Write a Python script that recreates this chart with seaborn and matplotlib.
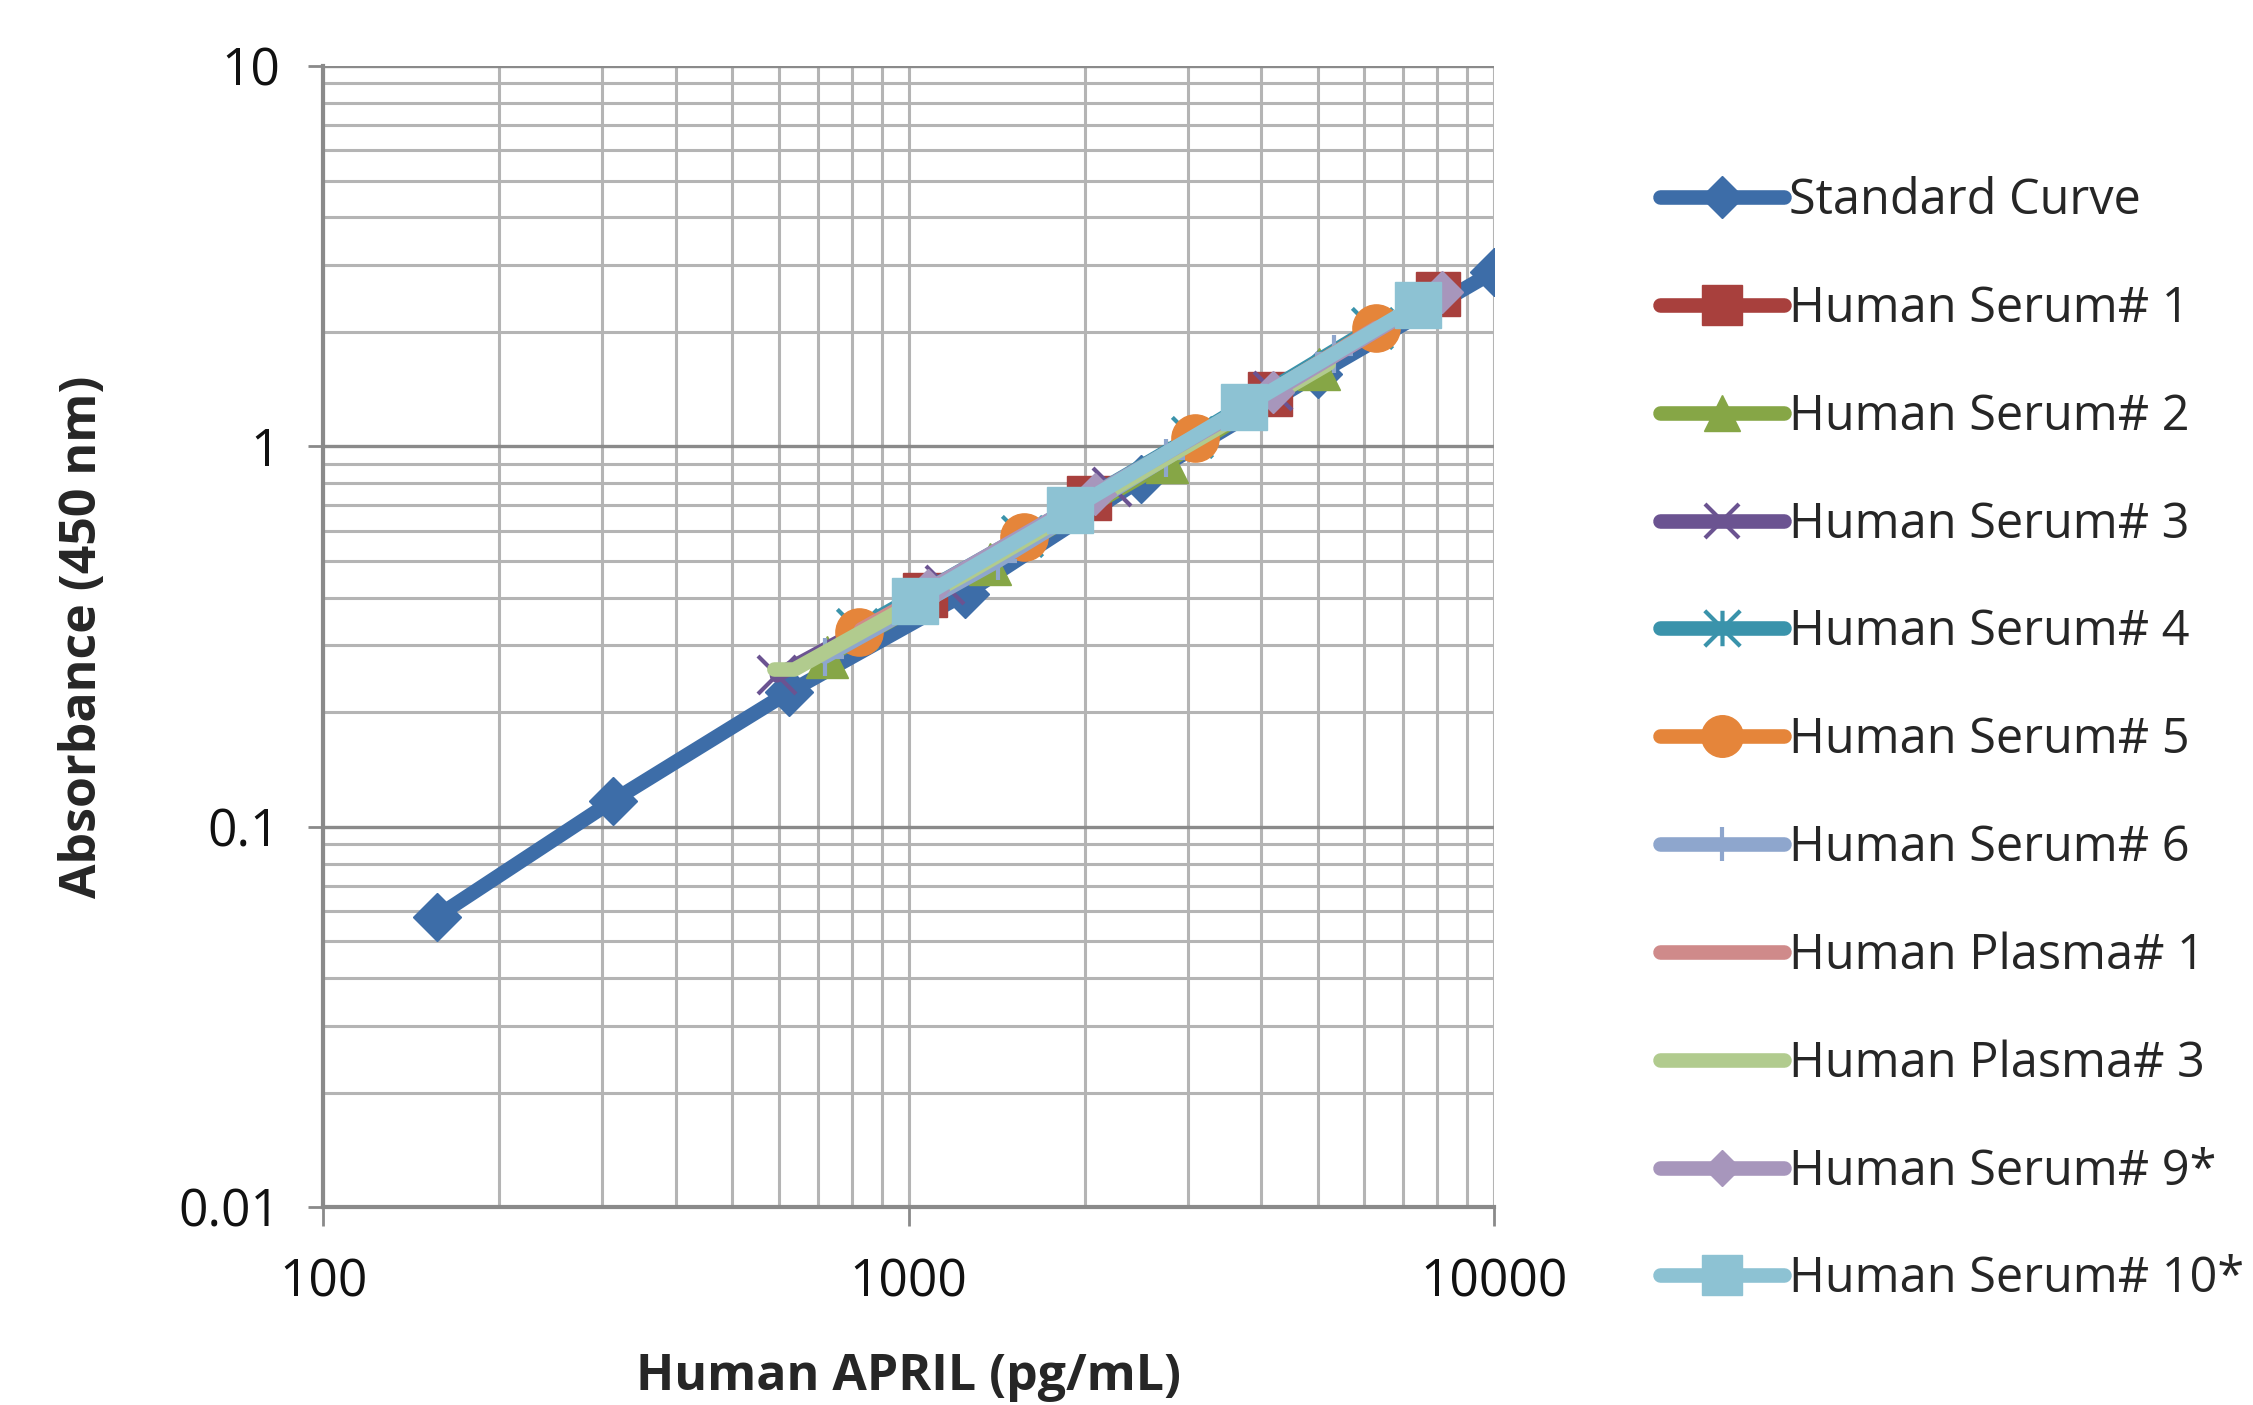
import matplotlib
matplotlib.use("Agg")
import matplotlib.pyplot as plt
from matplotlib.path import Path
from matplotlib.ticker import FixedLocator, LogLocator, NullFormatter
import seaborn as sns


# Data

std_x = [156.25, 312.5, 625, 1250, 2500, 5000, 10000]
std_y = [0.058, 0.117, 0.226, 0.41, 0.82, 1.55, 2.88]

serum1_x = [1067, 2032, 4140, 8030]
serum1_y = [0.407, 0.73, 1.376, 2.51]

serum2_x = [727, 1376, 2760, 5020]
serum2_y = [0.28, 0.49, 0.91, 1.6]

serum3_x = [596, 1155, 2225, 4190]
serum3_y = [0.25, 0.433, 0.78, 1.40]

serum4_x = [815, 1560, 3050, 6200]
serum4_y = [0.33, 0.58, 1.06, 2.05]

serum5_x = [824, 1577, 3085, 6290]
serum5_y = [0.325, 0.577, 1.05, 2.05]

serum6_x = [720, 1420, 2750, 5340]
serum6_y = [0.28, 0.50, 0.93, 1.75]

plasma1_x = [830, 1600, 3100, 6300]
plasma1_y = [0.33, 0.58, 1.06, 2.05]

plasma3_x = [590, 638, 1280, 2620, 5220]
plasma3_y = [0.259, 0.259, 0.47, 0.89, 1.65]

serum9_x = [1080, 2080, 4200, 8150]
serum9_y = [0.42, 0.75, 1.39, 2.55]

serum10_x = [1026, 1888, 3742, 7413]
serum10_y = [0.393, 0.68, 1.27, 2.36]

series = [
    ("Standard Curve", std_x, std_y),
    ("Human Serum# 1", serum1_x, serum1_y),
    ("Human Serum# 2", serum2_x, serum2_y),
    ("Human Serum# 3", serum3_x, serum3_y),
    ("Human Serum# 4", serum4_x, serum4_y),
    ("Human Serum# 5", serum5_x, serum5_y),
    ("Human Serum# 6", serum6_x, serum6_y),
    ("Human Plasma# 1", plasma1_x, plasma1_y),
    ("Human Plasma# 3", plasma3_x, plasma3_y),
    ("Human Serum# 9*", serum9_x, serum9_y),
    ("Human Serum# 10*", serum10_x, serum10_y),
]

x_ticks = [100, 1000, 10000]
x_tick_labels = ["100", "1000", "10000"]
y_ticks = [0.01, 0.1, 1, 10]
y_tick_labels = ["0.01", "0.1", "1", "10"]

# Styles

star = Path([(-1, -1), (1, 1), (-1, 1), (1, -1), (0, -1), (0, 1)],
            [Path.MOVETO, Path.LINETO] * 3)

styles = {
    "Standard Curve":   dict(color="#3D6DA8", marker="D", ms=24, mew=1),
    "Human Serum# 1":   dict(color="#A8403D", marker="s", ms=32, mew=1),
    "Human Serum# 2":   dict(color="#86A646", marker="^", ms=30, mew=1),
    "Human Serum# 3":   dict(color="#6B5391", marker="x", ms=28, mew=3),
    "Human Serum# 4":   dict(color="#3A93AB", marker=star, ms=29, mew=3),
    "Human Serum# 5":   dict(color="#E5853A", marker="o", ms=34, mew=1),
    "Human Serum# 6":   dict(color="#8EA6CD", marker="+", ms=28, mew=3),
    "Human Plasma# 1":  dict(color="#CF8A8A", marker=None, ms=0, mew=0),
    "Human Plasma# 3":  dict(color="#B1CB8E", marker=None, ms=0, mew=0),
    "Human Serum# 9*":  dict(color="#A796BC", marker="D", ms=21, mew=1),
    "Human Serum# 10*": dict(color="#8DC2D3", marker="s", ms=33, mew=1),
}

grid_light = "#B4B4B4"
grid_dark = "#8A8A8A"

# Plot

sns.set_theme(style="white")
plt.rcParams["font.family"] = ["Open Sans", "DejaVu Sans"]

fig = plt.figure(figsize=(22.53, 14.05), dpi=100)
ax = fig.add_axes([0.1434, 0.1409, 0.5197, 0.8121])
ax.set_xscale("log")
ax.set_yscale("log")

for name, xs, ys in series:
    st = styles[name]
    sns.lineplot(x=xs, y=ys, ax=ax, sort=False, estimator=None,
                 color=st["color"], lw=10.5, marker=st["marker"],
                 markersize=st["ms"], markeredgecolor=st["color"],
                 markerfacecolor=st["color"], markeredgewidth=st["mew"],
                 label=name, solid_capstyle="round")

ax.set_xlim(100, 10000)
ax.set_ylim(0.01, 10)

ax.xaxis.set_major_locator(FixedLocator(x_ticks))
ax.set_xticklabels(x_tick_labels)
ax.yaxis.set_major_locator(FixedLocator(y_ticks))
ax.set_yticklabels(y_tick_labels)
ax.xaxis.set_minor_locator(LogLocator(base=10, subs=range(2, 10)))
ax.yaxis.set_minor_locator(LogLocator(base=10, subs=range(2, 10)))
ax.xaxis.set_minor_formatter(NullFormatter())
ax.yaxis.set_minor_formatter(NullFormatter())

ax.set_axisbelow(True)
ax.grid(which="minor", axis="both", color=grid_light, lw=2.2)
ax.grid(which="major", axis="x", color=grid_light, lw=2.2)
ax.grid(which="major", axis="y", color=grid_dark, lw=2.4)

for side in ["top", "right"]:
    ax.spines[side].set_visible(False)
for side in ["left", "bottom"]:
    ax.spines[side].set_color(grid_dark)
    ax.spines[side].set_linewidth(3)

ax.tick_params(which="minor", length=0)
ax.tick_params(axis="y", which="major", left=True, direction="out", length=11,
               width=2, color=grid_dark, pad=20, labelsize=37, labelcolor="#111111")
ax.tick_params(axis="x", which="major", bottom=True, direction="out", length=14,
               width=2, color=grid_dark, pad=22, labelsize=37, labelcolor="#111111")

ax.set_xlabel("Human APRIL (pg/mL)", fontsize=36, fontweight="bold", va="center")
ax.set_ylabel("Absorbance (450 nm)", fontsize=36, fontweight="bold", va="center")
ax.xaxis.set_label_coords(0.5, -0.149)
ax.yaxis.set_label_coords(-0.205, 0.5)

ax.legend(loc="center left", bbox_to_anchor=(0.737, 0.473),
          bbox_transform=fig.transFigure, frameon=False, fontsize=35,
          handlelength=2.55, handletextpad=0.1, labelspacing=1.2,
          borderpad=0, borderaxespad=0, markerscale=0.88)

fig.savefig("out.png", dpi=100)
